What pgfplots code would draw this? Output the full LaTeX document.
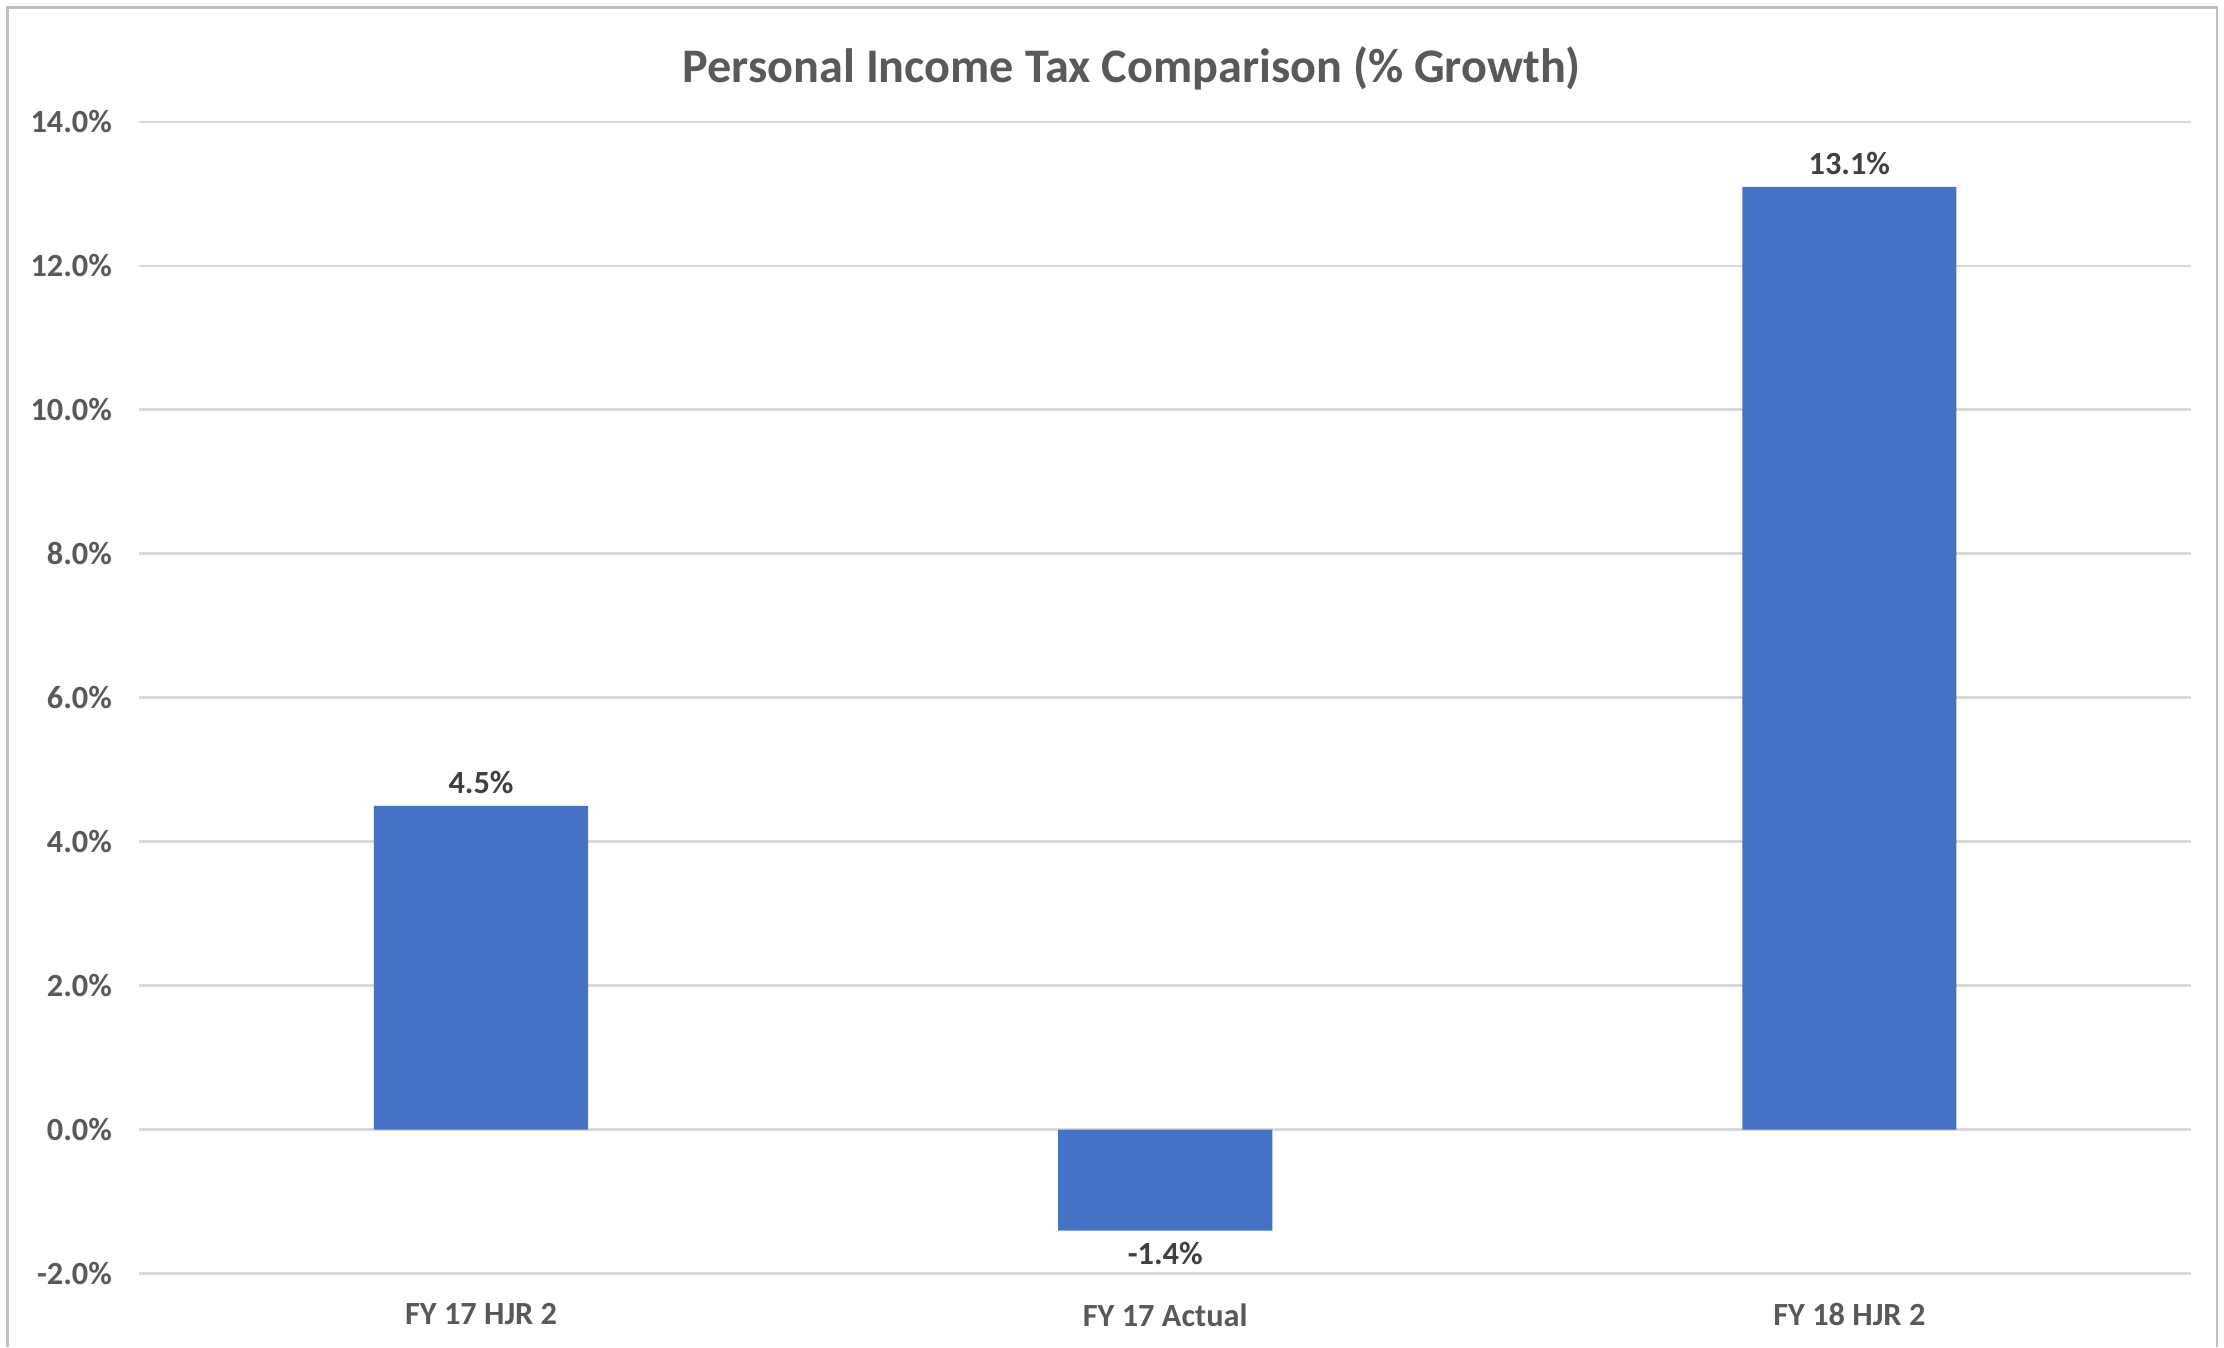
\documentclass[border=0pt]{standalone}
\usepackage{pgfplots}
\pgfplotsset{compat=1.18}
\usepackage{fontspec}
\setmainfont{Carlito}
\definecolor{barblue}{HTML}{4472C4}
\definecolor{gridgray}{HTML}{D9D9D9}
\definecolor{txtgray}{HTML}{595959}
\definecolor{lblgray}{HTML}{404040}
\definecolor{framegray}{HTML}{BFBFBF}
\begin{document}
\begin{tikzpicture}
\path[use as bounding box] (-49pt,-26pt) rectangle (735pt,449pt);
\draw[framegray, line width=1pt] (-46.5pt,-26pt) -- (-46.5pt,446.5pt) -- (732.5pt,446.5pt) -- (732.5pt,-26pt);
\begin{axis}[
  at={(0,0)}, anchor=south west,
  scale only axis, width=723.5pt, height=406pt,
  ybar, bar width=75.5pt,
  xmin=-0.5, xmax=2.5, ymin=-2, ymax=14,
  xtick={0,1,2}, xticklabels={FY 17 HJR 2, FY 17 Actual, FY 18 HJR 2},
  ytick={-2,0,2,4,6,8,10,12,14},
  yticklabel={\pgfmathprintnumber[fixed,fixed zerofill,precision=1]{\tick}\%},
  /pgf/number format/assume math mode=true,
  axis line style={draw=none},
  major tick length=0pt,
  ymajorgrids, grid style={gridgray, line width=1pt},
  tick label style={font=\fontsize{11.4}{13}\selectfont\bfseries, text=txtgray},
  yticklabel style={xshift=-6pt},
  xticklabel style={yshift=-7pt},
  nodes near coords={\pgfmathprintnumber[fixed,fixed zerofill,precision=1]{\pgfplotspointmeta}\%},
  nodes near coords style={font=\fontsize{11.4}{13}\selectfont\bfseries, text=lblgray, inner sep=4pt},
  clip=false,
]
\addplot[fill=barblue, draw=none] coordinates {(0,4.5) (1,-1.4) (2,13.1)};
\end{axis}
\node[font=\fontsize{17}{20}\selectfont\bfseries, text=txtgray] at (350pt,425pt) {Personal Income Tax Comparison (\% Growth)};
\end{tikzpicture}
\end{document}
